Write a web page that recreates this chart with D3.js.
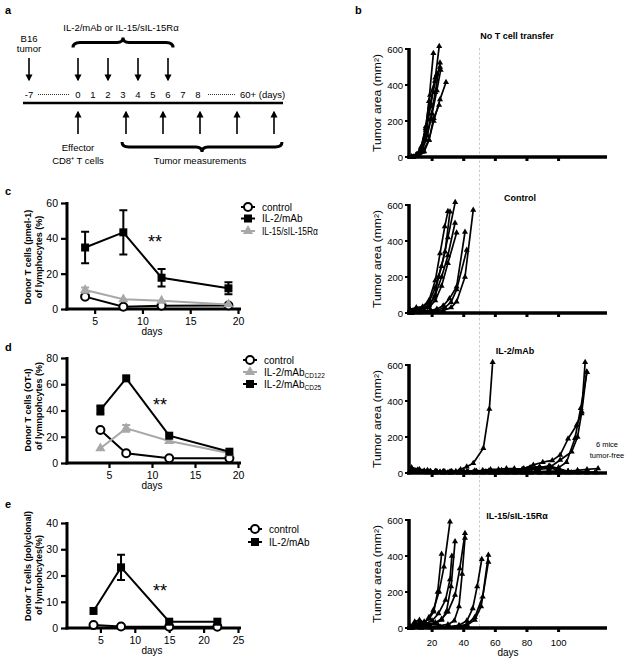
<!DOCTYPE html>
<html>
<head>
<meta charset="utf-8">
<script src="https://cdn.jsdelivr.net/npm/d3@7/dist/d3.min.js"></script>
<style>
  html,body{margin:0;padding:0;background:#fff;}
  text{font-family:"Liberation Sans",Arial,Helvetica,sans-serif;fill:#000;}
</style>
</head>
<body>
<svg id="fig" width="629" height="665" viewBox="0 0 629 665"></svg>
<script>
// ================= DATA =================
// Panel a (treatment schedule)
const tumorDay = -7;
const injectionDays = [0, 2, 4, 6];
const scheduleDays = [0, 1, 2, 3, 4, 5, 6, 7, 8];
const transferDay = 0;
const measurementSlots = [1, 2, 3, 4, 5];

// Panel c (pmel-1)
const cDays = [4, 8, 12, 19];
const cControl = [7, 1.3, 1.9, 2];
const cIL2 = [34.8, 43.4, 17.7, 11.7];
const cIL2Err = [8.9, 12.5, 5, 3.4];
const cIL15 = [10.7, 5.5, 4.7, 2.6];
const cIL15Err = [1.5, 0, 0, 0];
const cXTicks = [5, 10, 15, 20];
const cYTicks = [0, 20, 40, 60];

// Panel d (OT-I)
const dDays = [4, 7, 12, 19];
const dControl = [25.1, 7.4, 3.6, 3.6];
const dCD122 = [11.2, 26.4, 16.8, 7.4];
const dCD122Err = [0, 2.6, 0, 0];
const dCD25 = [40.4, 64.5, 20.8, 8.6];
const dCD25Err = [3.4, 0, 0, 0];
const dXTicks = [5, 10, 15, 20];
const dYTicks = [0, 20, 40, 60, 80];

// Panel e (polyclonal)
const eDays = [4, 8, 15, 22];
const eControl = [1.1, 0.6, 0.5, 0.5];
const eIL2 = [6.5, 23.1, 2.4, 2.4];
const eIL2Err = [0, 4.8, 0, 0];
const eXTicks = [5, 10, 15, 20, 25];
const eYTicks = [0, 10, 20, 30, 40];

// Panel b (tumor growth, [day, area mm2])
const bXTicks = [20, 40, 60, 80, 100];
const bYTicks = [0, 200, 400, 600];
const noTransferCurves = [
  [[7,2],[10,12],[13,55],[16,160],[18,310],[20.8,576]],
  [[7,0],[10,8],[13,40],[16,130],[19,280],[22,440],[24.5,615]],
  [[7,0],[10,6],[13,30],[16,95],[19,210],[22,360],[25,524]],
  [[8,0],[11,6],[14,45],[17,120],[20,240],[23,370],[25.4,483]],
  [[8,0],[11,5],[14,28],[18,95],[21,200],[25,320],[28.8,415]],
  [[7,0],[10,10],[13,48],[16,170],[18.7,344],[21.8,422]],
  [[8,0],[12,6],[15,30],[18,94],[21,216],[24.4,289]],
  [[7,0],[10,14],[13.4,57],[16,150],[19,300],[23,460],[25,500]]
];
const controlCurves = [
  [[6,5],[10,20],[14,25],[18,45],[21.6,90],[24,200],[28.2,340],[31.3,563]],
  [[6,15],[10,25],[14,30],[18,60],[22,140],[26,260],[30,420],[34.6,615]],
  [[6,10],[10,18],[14,22],[18,40],[22,100],[26,200],[30,320],[34.5,500]],
  [[6,5],[10,12],[14,18],[18,30],[22,70],[26,150],[30,277],[35.5,446]],
  [[7,0],[11,5],[15,10],[19,15],[23,22],[27,40],[31,80],[35.5,146],[40.8,450]],
  [[7,0],[11,4],[15,8],[19,10],[23,15],[28,30],[32,60],[35.5,130],[41.9,350]],
  [[7,0],[12,3],[17,5],[22,8],[27,14],[32,30],[35.5,63],[40.8,200],[46,572]],
  [[6,20],[10,30],[14,35],[18,70],[22,180],[25,330],[28,480],[30,565]]
];
const il2Curves = [
  [[7,20],[11,15],[15,10],[19,8],[23,8],[27,5],[31,5],[35,10],[38,20],[41.9,35],[46,54],[52.4,137],[56.2,355],[58.3,615]],
  [[7,10],[12,8],[18,5],[25,5],[32,8],[40,10],[48,10],[56,12],[64,15],[72,20],[78,25],[84,45],[90,60],[96,70],[101,100],[106,190],[111.5,267],[114.7,341],[117.8,563]],
  [[7,15],[12,10],[18,8],[25,5],[32,5],[40,8],[48,10],[56,10],[64,12],[72,15],[80,20],[88,30],[95,35],[101,72],[108.3,118],[112,200],[114.5,330],[116.8,615]],
  [[7,5],[14,5],[22,3],[30,3],[38,5],[46,5],[54,8],[62,10],[70,10],[78,15],[86,20],[94,25],[100,30],[105,60],[110.4,193],[114,360],[118,560]],
  [[7,25],[11,18],[15,12],[19,10],[23,8],[28,8],[33,5],[38,5],[43,5],[48,5],[53,5],[58,3],[63,3],[68,3],[73,3],[78,3],[83,3],[88,3],[93,3],[98,3],[103,3],[108,3],[113,3],[118,3],[123,3]],
  [[7,20],[12,15],[17,10],[22,8],[27,5],[32,5],[37,8],[42,10],[47,12],[52,15],[57,20],[62,20],[67,25],[72,25],[77,20],[82,30],[88,35],[94,30],[100,15],[106,10],[112,15],[118,20],[125,25]],
  [[7,15],[12,10],[17,5],[22,5],[27,3],[32,3],[37,3],[42,5],[47,5],[52,8],[57,10],[62,8],[67,10],[72,15],[77,20],[82,25],[88,30],[94,40],[100,25],[106,10],[112,5],[118,3]],
  [[7,10],[12,8],[17,5],[22,3],[27,3],[32,3],[37,3],[42,3],[47,3],[52,3],[57,3],[62,3],[67,3],[72,3],[77,3],[82,3],[88,3],[94,3],[100,3],[106,3],[112,3],[118,3],[124,3]],
  [[7,30],[12,20],[17,15],[22,10],[27,10],[32,8],[37,5],[42,5],[47,5],[52,5],[57,5],[62,5],[67,5],[72,5],[77,5],[82,5],[88,8],[94,10],[100,10],[106,8],[112,5],[118,5]],
  [[7,5],[12,5],[17,3],[22,3],[27,3],[32,3],[37,3],[42,3],[47,3],[52,3],[57,3],[62,3],[67,3],[72,3],[77,3],[82,3],[88,3],[94,3],[100,3],[106,3]]
];
const il15Curves = [
  [[6,10],[9,35],[12,45],[15,30],[18,60],[20.8,100],[24.4,202],[27.5,340],[31.3,590]],
  [[6,5],[9,20],[12,30],[15,35],[18,50],[21,90],[23.5,200],[26,411]],
  [[6,5],[9,15],[12,20],[16,25],[20,40],[24,80],[28.5,156],[31.3,270],[32.5,400]],
  [[6,0],[10,8],[14,12],[18,20],[22,30],[26,50],[30,90],[34.5,183],[37.5,330],[40.8,526]],
  [[6,0],[10,5],[14,10],[18,15],[22,25],[26,45],[29,90],[32,230],[34.5,480]],
  [[6,0],[12,5],[18,8],[24,12],[30,20],[34,40],[37,120],[39,300],[40.8,500]],
  [[7,0],[13,3],[19,5],[25,5],[31,8],[37,15],[42,40],[45.7,109],[48.5,230],[51.4,382]],
  [[7,0],[13,3],[19,3],[25,5],[31,5],[37,10],[42,20],[47,60],[52,174],[55.6,405]],
  [[7,0],[13,2],[19,3],[25,4],[31,5],[37,8],[42,15],[47,45],[51,120],[55.6,367]]
];

// ================= DRAWING =================
const svg = d3.select("#fig");
const FONT = '"Liberation Sans",Arial,Helvetica,sans-serif';
const GRAY = "#a8a8a8";

function txt(g, x, y, s, o = {}) {
  const t = g.append("text").attr("x", x).attr("y", y).text(s)
    .style("font-size", (o.size || 10) + "px")
    .attr("text-anchor", o.anchor || "start");
  if (o.bold) t.style("font-weight", "bold");
  if (o.fill) t.style("fill", o.fill);
  if (o.len) t.attr("textLength", o.len).attr("lengthAdjust", "spacingAndGlyphs");
  return t;
}

const defs = svg.append("defs");
defs.append("marker").attr("id", "ah").attr("viewBox", "0 0 10 10")
  .attr("refX", 8).attr("refY", 5).attr("markerWidth", 7).attr("markerHeight", 8)
  .attr("markerUnits", "userSpaceOnUse").attr("orient", "auto")
  .append("path").attr("d", "M0,0 L10,5 L0,10 z").attr("fill", "#000");

// panel letters
txt(svg, 5, 14, "a", {bold: true, size: 11});
txt(svg, 355, 14, "b", {bold: true, size: 11});
txt(svg, 5, 195, "c", {bold: true, size: 11});
txt(svg, 5, 351, "d", {bold: true, size: 11});
txt(svg, 5, 508, "e", {bold: true, size: 11});

// ---------- Panel a ----------
(function () {
  const g = svg.append("g");
  const sx = d3.scaleLinear().domain([0, 8]).range([78, 198]);
  const pos = d => d === tumorDay ? 29 : sx(d);
  const mx = d3.scaleLinear().domain([1, 5]).range([126, 274]);

  txt(g, pos(tumorDay), 41.5, "B16", {anchor: "middle", size: 9.5});
  txt(g, pos(tumorDay), 52, "tumor", {anchor: "middle", size: 9.5});
  txt(g, 121, 31, "IL-2/mAb or IL-15/sIL-15R\u03b1", {anchor: "middle", size: 9.5});

  function brace(x1, x2, y, dir) {
    const m = (x1 + x2) / 2, h = 5 * dir;
    return `M${x1},${y - h} Q${x1},${y} ${x1 + 7},${y} L${m - 6},${y} Q${m},${y} ${m},${y + h} Q${m},${y} ${m + 6},${y} L${x2 - 7},${y} Q${x2},${y} ${x2},${y - h}`;
  }
  g.append("path").attr("d", brace(73, 173, 42.5, -1)).attr("fill", "none").attr("stroke", "#000").attr("stroke-width", 3);
  g.append("path").attr("d", brace(122, 282, 147, 1)).attr("fill", "none").attr("stroke", "#000").attr("stroke-width", 3);

  [tumorDay, ...injectionDays].forEach(d => {
    g.append("line").attr("x1", pos(d)).attr("x2", pos(d)).attr("y1", 58).attr("y2", 80)
      .attr("stroke", "#000").attr("stroke-width", 1.6).attr("marker-end", "url(#ah)");
  });

  txt(g, pos(tumorDay), 98, "-7", {anchor: "middle", size: 9.5});
  scheduleDays.forEach(d => txt(g, sx(d), 98, String(d), {anchor: "middle", size: 9.5}));
  txt(g, 240, 98, "60+ (days)", {size: 9.5});
  g.append("line").attr("x1", 38).attr("x2", 70).attr("y1", 94.5).attr("y2", 94.5)
    .attr("stroke", "#000").attr("stroke-width", 0.8).attr("stroke-dasharray", "1,1");
  g.append("line").attr("x1", 208).attr("x2", 235).attr("y1", 94.5).attr("y2", 94.5)
    .attr("stroke", "#000").attr("stroke-width", 0.8).attr("stroke-dasharray", "1,1");
  g.append("line").attr("x1", 23).attr("x2", 283).attr("y1", 103).attr("y2", 103)
    .attr("stroke", "#000").attr("stroke-width", 2.5);

  const upX = [sx(transferDay), ...measurementSlots.map(mx)];
  upX.forEach(x => {
    g.append("line").attr("x1", x).attr("x2", x).attr("y1", 134).attr("y2", 112)
      .attr("stroke", "#000").attr("stroke-width", 1.6).attr("marker-end", "url(#ah)");
  });
  txt(g, sx(transferDay), 150.5, "Effector", {anchor: "middle", size: 9.5});
  txt(g, sx(transferDay), 164, "CD8\u207a T cells", {anchor: "middle", size: 9.5});
  txt(g, 200, 164, "Tumor measurements", {anchor: "middle", size: 9.5});
})();

// ---------- marker helper ----------
function marker(g, type, x, y, color, small) {
  if (type === "circle") {
    g.append("circle").attr("cx", x).attr("cy", y).attr("r", 4)
      .attr("fill", "#fff").attr("stroke", color).attr("stroke-width", 2);
  } else if (type === "square") {
    g.append("rect").attr("x", x - 4).attr("y", y - 4).attr("width", 8).attr("height", 8).attr("fill", color);
  } else {
    g.append("path").attr("d", d3.symbol(d3.symbolTriangle, small ? 16 : 45)())
      .attr("transform", `translate(${x},${y})`).attr("fill", color);
  }
}

// ---------- Line panels c,d,e ----------
function linePanel(o) {
  const g = svg.append("g");
  const x = d3.scaleLinear().domain(o.xDomain).range([66, 238]);
  const y = d3.scaleLinear().domain(o.yDomain).range([o.y0, o.y1]);

  const ax = g.append("g").attr("transform", `translate(0,${o.y0})`)
    .call(d3.axisBottom(x).tickValues(o.xTicks).tickSize(5).tickSizeOuter(0).tickPadding(4));
  const ay = g.append("g").attr("transform", `translate(67,0)`)
    .call(d3.axisLeft(y).tickValues(o.yTicks).tickSize(6).tickSizeOuter(0).tickPadding(3));
  [ax, ay].forEach(a => {
    a.attr("font-family", FONT).attr("font-size", 10.5);
    a.select(".domain").remove();
    a.selectAll(".tick line").attr("stroke-width", 2.2);
    a.selectAll(".tick text").style("fill", "#000");
  });
  g.append("line").attr("x1", 67).attr("x2", 67).attr("y1", o.y1 - 1).attr("y2", o.y0 + 1.5)
    .attr("stroke", "#000").attr("stroke-width", 3);
  g.append("line").attr("x1", 65.5).attr("x2", 241).attr("y1", o.y0).attr("y2", o.y0)
    .attr("stroke", "#000").attr("stroke-width", 3);
  txt(g, 152, o.y0 + 26, "days", {anchor: "middle", size: 10});

  // y label (two lines)
  txt(g, 0, 0, o.label1, {anchor: "middle", size: 9, bold: true})
    .attr("transform", `translate(30.5,${o.lc1}) rotate(-90)`);
  txt(g, 0, 0, o.label2, {anchor: "middle", size: 9, bold: true})
    .attr("transform", `translate(41.5,${o.lc2}) rotate(-90)`);

  o.series.forEach(s => {
    const pts = s.days.map((d, i) => [x(d), y(s.values[i])]);
    g.append("path").attr("d", d3.line()(pts)).attr("fill", "none")
      .attr("stroke", s.color).attr("stroke-width", 2);
    if (s.err) s.err.forEach((e, i) => {
      if (!e) return;
      const cx = x(s.days[i]), yt = y(s.values[i] + e), yb = y(s.values[i] - e);
      g.append("path").attr("d", `M${cx},${yt}V${yb}M${cx - 4},${yt}H${cx + 4}M${cx - 4},${yb}H${cx + 4}`)
        .attr("stroke", s.color).attr("stroke-width", 2).attr("fill", "none");
    });
    pts.forEach(p => marker(g, s.symbol, p[0], p[1], s.color));
  });

  // stars
  txt(g, o.star[0], o.star[1] + 10, "**", {anchor: "middle", size: 18});

  // legend
  o.legend.forEach((l, i) => {
    const ly = o.legY[i];
    g.append("line").attr("x1", o.legX - 7).attr("x2", o.legX + 7).attr("y1", ly).attr("y2", ly)
      .attr("stroke", l.color).attr("stroke-width", 2);
    marker(g, l.symbol, o.legX, ly, l.color);
    const t = txt(g, o.legX + 14, ly + 3.5, l.text, {size: 10, len: l.len});
    if (l.sub) t.append("tspan").attr("dy", 2.5).style("font-size", "6.5px").text(l.sub);
  });
}

linePanel({
  xDomain: [2, 20], yDomain: [0, 60], y0: 309, y1: 203,
  xTicks: cXTicks, yTicks: cYTicks,
  label1: "Donor T cells (pmel-1)", label2: "of lymphocytes (%)", lc1: 257, lc2: 257,
  series: [
    {days: cDays, values: cControl, color: "#000", symbol: "circle"},
    {days: cDays, values: cIL15, err: cIL15Err, color: GRAY, symbol: "triangle"},
    {days: cDays, values: cIL2, err: cIL2Err, color: "#000", symbol: "square"}
  ],
  star: [155, 238],
  legX: 248, legY: [207, 218.5, 231],
  legend: [
    {text: "control", color: "#000", symbol: "circle"},
    {text: "IL-2/mAb", color: "#000", symbol: "square"},
    {text: "IL-15/sIL-15R\u03b1", color: GRAY, symbol: "triangle", len: 56}
  ]
});

linePanel({
  xDomain: [0, 20], yDomain: [0, 80], y0: 463, y1: 358,
  xTicks: dXTicks, yTicks: dYTicks,
  label1: "Donor T cells (OT-I)", label2: "of lymnpohcytes (%)", lc1: 410, lc2: 406,
  series: [
    {days: dDays, values: dControl, color: "#000", symbol: "circle"},
    {days: dDays, values: dCD122, err: dCD122Err, color: GRAY, symbol: "triangle"},
    {days: dDays, values: dCD25, err: dCD25Err, color: "#000", symbol: "square"}
  ],
  star: [160, 401],
  legX: 250, legY: [360, 372, 384],
  legend: [
    {text: "control", color: "#000", symbol: "circle"},
    {text: "IL-2/mAb", sub: "CD122", color: GRAY, symbol: "triangle"},
    {text: "IL-2/mAb", sub: "CD25", color: "#000", symbol: "square"}
  ]
});

linePanel({
  xDomain: [0, 25], yDomain: [0, 40], y0: 628, y1: 523,
  xTicks: eXTicks, yTicks: eYTicks,
  label1: "Donor T cells (polyclonal)", label2: "of lympohcytes(%)", lc1: 566, lc2: 575,
  series: [
    {days: eDays, values: eControl, color: "#000", symbol: "circle"},
    {days: eDays, values: eIL2, err: eIL2Err, color: "#000", symbol: "square"}
  ],
  star: [160, 587],
  legX: 255, legY: [529, 542],
  legend: [
    {text: "control", color: "#000", symbol: "circle"},
    {text: "IL-2/mAb", color: "#000", symbol: "square"}
  ]
});

// ---------- Panel b ----------
const xB = d3.scaleLinear().domain([0, 130]).range([400.5, 606]);
svg.append("line").attr("x1", xB(50)).attr("x2", xB(50)).attr("y1", 48).attr("y2", 628)
  .attr("stroke", "#c4c4c4").attr("stroke-width", 0.9).attr("stroke-dasharray", "2.5,2");

function tumorPanel(o) {
  const g = svg.append("g");
  const y = d3.scaleLinear().domain([0, 600]).range([o.y0, o.y0 - 108]);
  // axes
  g.append("line").attr("x1", 409).attr("x2", 409).attr("y1", y(600) - 1).attr("y2", o.y0 + 1.5)
    .attr("stroke", "#000").attr("stroke-width", 3.5);
  g.append("line").attr("x1", 407).attr("x2", 607).attr("y1", o.y0).attr("y2", o.y0)
    .attr("stroke", "#000").attr("stroke-width", 3.5);
  bYTicks.forEach(v => {
    g.append("line").attr("x1", 405).attr("x2", 409).attr("y1", y(v)).attr("y2", y(v))
      .attr("stroke", "#000").attr("stroke-width", 2);
    txt(g, 403, y(v) + 3.5, String(v), {anchor: "end", size: 9.5});
  });
  bXTicks.forEach(v => {
    g.append("rect").attr("x", xB(v) - 1.5).attr("y", o.y0).attr("width", 3).attr("height", 4).attr("fill", "#000");
    if (o.labels) txt(g, xB(v), o.y0 + 18, String(v), {anchor: "middle", size: 9.5});
  });
  if (o.labels) txt(g, xB(68), o.y0 + 28, "days", {anchor: "middle", size: 10});
  txt(g, 0, 0, "Tumor area (mm\u00b2)", {anchor: "middle", size: 10, len: 98})
    .attr("transform", `translate(380.5,${o.y0 - 54}) rotate(-90)`);
  txt(g, o.tx, o.ty, o.title, {anchor: "middle", size: 9, bold: true});

  const line = d3.line().x(d => xB(d[0])).y(d => y(d[1]));
  o.curves.forEach(c => {
    g.append("path").attr("d", line(c)).attr("fill", "none").attr("stroke", "#000")
      .attr("stroke-width", 1.7).attr("stroke-linejoin", "round");
  });
  o.curves.forEach(c => c.forEach(d => marker(g, "triangle", xB(d[0]), y(d[1]), "#000", true)));
  return g;
}

tumorPanel({y0: 157, title: "No T cell transfer", tx: 517, ty: 39, curves: noTransferCurves});
tumorPanel({y0: 313, title: "Control", tx: 520, ty: 201, curves: controlCurves});
const g3 = tumorPanel({y0: 473, title: "IL-2/mAb", tx: 515, ty: 354, curves: il2Curves});
txt(g3, 607, 447, "6 mice", {anchor: "middle", size: 7.5});
txt(g3, 607, 458, "tumor-free", {anchor: "middle", size: 7.5});
tumorPanel({y0: 628, title: "IL-15/sIL-15R\u03b1", tx: 517, ty: 519, curves: il15Curves, labels: true});
</script>
</body>
</html>
